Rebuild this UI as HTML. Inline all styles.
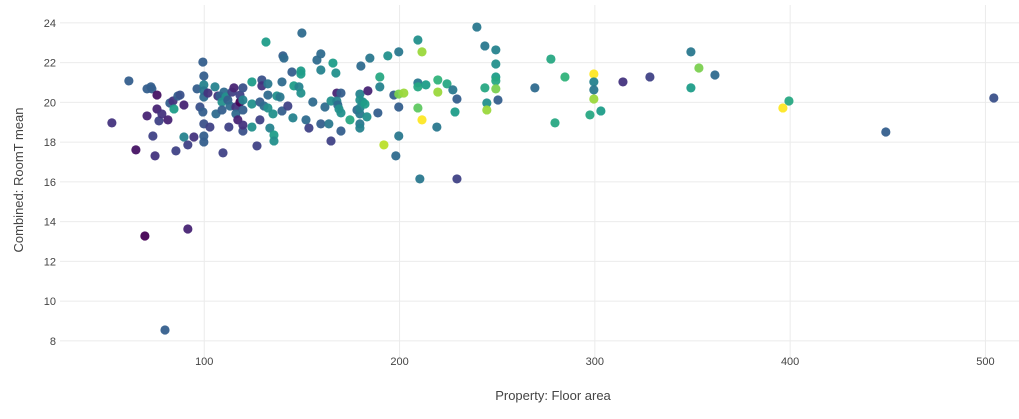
<!DOCTYPE html>
<html><head><meta charset="utf-8"><style>
body{margin:0;background:#fff;font-family:"Liberation Sans",sans-serif;}
svg text{font-family:"Liberation Sans",sans-serif;fill:#444;}
</style></head><body>
<svg id="chart" width="1019" height="414" xmlns="http://www.w3.org/2000/svg">
<g id="grid"></g>
<g id="pts"></g>
<g id="ticks"></g>
<text x="553" y="400" text-anchor="middle" font-size="13">Property: Floor area</text>
<text transform="translate(23,180) rotate(-90)" text-anchor="middle" font-size="13">Combined: RoomT mean</text>
</svg>
<script>
const area=[52.7,61.4,65,69.6,70.7,70.7,73.2,72.7,73.7,74.8,75.8,75.8,76.8,78.3,79.9,81.4,82.4,84,84.5,85.5,86.5,87.6,89.6,89.6,91.6,91.6,94.7,96.3,97.8,99.3,99.8,99.8,99.8,99.8,99.3,99.8,99.8,99.8,101.9,102.9,105.5,106,107,108,109.1,109.1,109.6,110.1,111.1,112.1,112.6,113.2,114.2,115.2,116.2,116.2,117.2,118.3,118.3,119.8,119.8,119.8,119.8,119.8,124.4,124.4,124.4,127,128.5,128.5,129.5,129.5,130.6,131.6,132.6,132.6,132.6,133.6,135.2,135.7,135.7,137.2,138.8,139.8,139.8,140.3,140.8,142.8,144.9,145.4,145.9,148.5,149.5,149.5,149.5,150,152.1,153.6,155.6,157.7,159.7,159.7,159.7,161.8,163.8,164.9,164.9,165.9,167.4,167.9,167.9,168.4,169,170,170,170,174.6,178.2,179.7,179.7,180.2,179.7,179.7,179.7,179.7,181.2,182.3,183.3,183.8,184.8,188.9,189.9,189.9,192,194,197.1,198.1,199.6,199.6,199.6,199.6,202.2,209.4,209.4,209.4,209.4,210.4,211.5,211.5,213.5,219.1,219.6,219.6,224.3,227.3,228.4,229.4,229.4,239.6,243.7,243.7,244.7,244.7,249.3,249.3,249.3,249.3,249.3,250.4,269.3,277.5,279.6,284.7,297.5,299.5,299.5,299.5,299.5,303.1,314.4,328.2,349.2,349.2,353.3,361.5,396.3,399.4,449,504.3];
const roomT=[18.97,21.08,17.61,13.28,19.32,20.68,20.68,20.78,18.31,17.31,19.67,20.37,19.07,19.42,8.55,19.12,19.97,20.07,19.67,17.56,20.32,20.37,19.87,18.26,13.63,17.86,18.26,20.68,19.77,22.03,21.33,20.88,20.58,20.27,19.52,18.92,18.31,18.01,20.47,18.76,20.78,19.42,20.32,20.32,20.02,19.62,17.46,20.52,20.27,20.12,18.76,19.82,20.52,20.73,19.77,19.42,19.12,20.02,20.37,20.73,19.62,18.56,18.86,20.12,19.92,21.03,18.76,17.81,19.12,20.02,21.13,20.83,19.82,23.04,20.93,20.37,19.72,18.71,19.42,18.36,18.06,20.32,20.27,21.03,19.57,22.34,22.23,19.82,21.53,19.22,20.83,20.78,21.58,21.43,20.47,23.49,19.12,18.71,20.02,22.13,21.63,22.44,18.92,19.77,18.92,18.06,20.07,21.98,21.48,20.47,20.07,19.87,19.67,20.47,18.56,19.47,19.12,19.62,20.42,18.92,21.83,18.71,19.42,20.12,19.72,20.02,19.92,19.27,20.58,22.23,19.47,21.28,20.78,17.86,22.34,20.37,17.31,22.54,19.77,18.31,20.42,20.47,23.14,20.98,19.72,20.78,16.15,22.54,19.12,20.88,18.76,20.52,21.13,20.93,20.63,19.52,20.17,16.15,23.79,22.84,20.73,19.97,19.62,22.64,21.93,21.28,21.08,20.68,20.12,20.73,22.18,18.97,21.28,19.37,21.43,21.03,20.63,20.17,19.57,21.03,21.28,22.54,20.73,21.73,21.38,19.72,20.07,18.51,20.22];
const colorVal=[0.15,0.3,0.05,0,0.1,0.3,0.3,0.3,0.2,0.15,0.1,0.05,0.2,0.15,0.3,0.1,0.3,0.15,0.55,0.2,0.3,0.25,0.1,0.45,0.1,0.2,0.15,0.3,0.25,0.3,0.3,0.45,0.4,0.35,0.3,0.25,0.3,0.3,0.15,0.2,0.45,0.35,0.15,0.3,0.5,0.3,0.2,0.35,0.5,0.3,0.2,0.35,0.2,0.1,0.15,0.35,0.1,0,0.2,0.25,0.3,0.25,0.15,0.45,0.5,0.55,0.5,0.2,0.2,0.3,0.25,0.15,0.35,0.55,0.4,0.35,0.5,0.45,0.5,0.55,0.5,0.5,0.4,0.35,0.3,0.3,0.35,0.2,0.3,0.45,0.55,0.45,0.55,0.55,0.5,0.35,0.35,0.2,0.35,0.35,0.45,0.35,0.3,0.35,0.4,0.2,0.5,0.55,0.5,0.1,0.45,0.35,0.5,0.3,0.3,0.5,0.6,0.35,0.45,0.4,0.35,0.45,0.4,0.5,0.45,0.5,0.55,0.5,0.1,0.4,0.3,0.6,0.45,0.9,0.5,0.3,0.35,0.4,0.3,0.4,0.8,0.85,0.5,0.4,0.75,0.6,0.4,0.85,1,0.55,0.4,0.85,0.65,0.6,0.4,0.55,0.3,0.2,0.4,0.4,0.6,0.5,0.85,0.45,0.5,0.55,0.6,0.8,0.3,0.35,0.6,0.6,0.65,0.6,1,0.45,0.4,0.85,0.55,0.15,0.2,0.4,0.55,0.8,0.35,1,0.6,0.3,0.25];
const xTicks=[100,200,300,400,500];
const yTicks=[8,10,12,14,16,18,20,22,24];
const X0=57,X1=1019,Y0=360,Y1=5,xMin=24.6,xMax=517.2,yMin=7.04,yMax=24.9;
const sx=v=>X0+(v-xMin)/(xMax-xMin)*(X1-X0);
const sy=v=>Y0-(v-yMin)/(yMax-yMin)*(Y0-Y1);
const vir=[[68,1,84],[72,40,120],[62,73,137],[49,104,142],[38,130,142],[31,158,137],[53,183,121],[109,205,89],[180,222,44],[253,231,37]];
function col(t){const p=t*(vir.length-1),i=Math.min(Math.floor(p),vir.length-2),f=p-i;const a=vir[i],b=vir[i+1];return `rgb(${a.map((c,k)=>Math.round(c+(b[k]-c)*f)).join(',')})`;}
const NS="http://www.w3.org/2000/svg";
const grid=document.getElementById('grid'),ticks=document.getElementById('ticks'),pts=document.getElementById('pts');
xTicks.forEach(v=>{const l=document.createElementNS(NS,'line');


l.setAttribute('x1',sx(v));l.setAttribute('x2',sx(v));l.setAttribute('y1',Y1);l.setAttribute('y2',Y0);l.setAttribute('stroke','#ebebeb');grid.appendChild(l);
const t=document.createElementNS(NS,'text');


t.setAttribute('x',sx(v));t.setAttribute('y',365);t.setAttribute('text-anchor','middle');t.setAttribute('font-size','11');t.textContent=v;ticks.appendChild(t);});
yTicks.forEach(v=>{const l=document.createElementNS(NS,'line');


l.setAttribute('x1',X0+3);l.setAttribute('x2',X1);l.setAttribute('y1',sy(v));l.setAttribute('y2',sy(v));l.setAttribute('stroke','#ebebeb');grid.appendChild(l);
const t=document.createElementNS(NS,'text');


t.setAttribute('x',56);t.setAttribute('y',sy(v)+4);t.setAttribute('text-anchor','end');t.setAttribute('font-size','11');t.textContent=v;ticks.appendChild(t);});
area.forEach((a,i)=>{const c=document.createElementNS(NS,'circle');


c.setAttribute('cx',sx(a));c.setAttribute('cy',sy(roomT[i]));c.setAttribute('r',4.6);c.setAttribute('fill',col(colorVal[i]));c.setAttribute('fill-opacity','0.95');pts.appendChild(c);});
</script>
</body></html>
